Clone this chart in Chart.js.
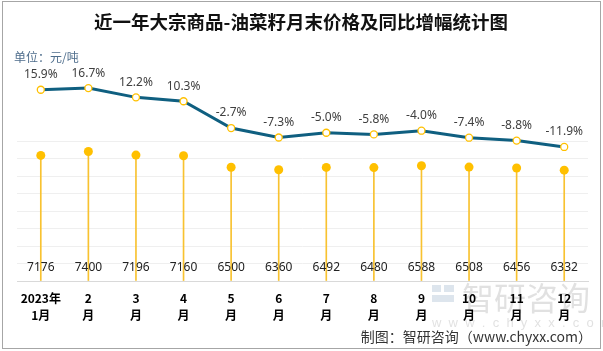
<!DOCTYPE html>
<html>
<head>
<meta charset="utf-8">
<script src="https://cdn.jsdelivr.net/npm/chart.js@4.4.1/dist/chart.umd.min.js"></script>
<style>
  body { margin: 0; background: #fff; }
  #wrap { width: 603px; height: 351px; position: relative; }
</style>
</head>
<body>
<div id="wrap"><canvas id="chartPrice"></canvas></div>
<script>
// 数据
var months = [['2023年', '1月'], ['2', '月'], ['3', '月'], ['4', '月'], ['5', '月'], ['6', '月'],
              ['7', '月'], ['8', '月'], ['9', '月'], ['10', '月'], ['11', '月'], ['12', '月']];
var prices = [7176, 7400, 7196, 7160, 6500, 6360, 6492, 6480, 6588, 6508, 6456, 6332];
var yoy = [15.9, 16.7, 12.2, 10.3, -2.7, -7.3, -5.0, -5.8, -4.0, -7.4, -8.8, -11.9];

var GOLD = '#FFC000';
var LINE = '#0F5F80';
var CJK = '"Noto Sans CJK SC", "Noto Sans", sans-serif';

// 文字、水印、边框
var extras = {
    id: 'extras',
    beforeDraw: function (chart) {
        var ctx = chart.ctx;
        ctx.save();
        // watermark
        ctx.globalAlpha = 0.3;
        ctx.fillStyle = '#8fa9c4';
        ctx.fillRect(432, 285, 9, 7);
        ctx.fillRect(444, 285, 10, 7);
        ctx.fillRect(432, 295, 22, 7);
        ctx.fillStyle = '#9a9a9a';
        ctx.font = '32px ' + CJK;
        ctx.textBaseline = 'middle';
        ctx.textAlign = 'left';
        ctx.fillText('智研咨询', 462, 298);
        ctx.font = '13px "Liberation Sans", sans-serif';
        ctx.fillText('w  w  w  .  c  h  y  x  x  .  c  o  m', 432, 323);
        ctx.restore();
    },
    afterDatasetsDraw: function (chart) {
        var ctx = chart.ctx;
        var area = chart.chartArea;
        ctx.save();
        ctx.textAlign = 'center';
        ctx.textBaseline = 'middle';
        // 价格标签
        ctx.font = '12px "Noto Sans", sans-serif';
        ctx.fillStyle = '#222';
        chart.getDatasetMeta(1).data.forEach(function (pt, i) {
            ctx.fillText(String(prices[i]), pt.x, area.bottom - 13);
        });
        // 同比标签
        ctx.fillStyle = '#404040';
        chart.getDatasetMeta(0).data.forEach(function (pt, i) {
            ctx.fillText(yoy[i].toFixed(1) + '%', pt.x, pt.y - 15);
        });
        ctx.restore();
    },
    afterDraw: function (chart) {
        var ctx = chart.ctx;
        ctx.save();
        ctx.fillStyle = '#111';
        ctx.textBaseline = 'middle';
        ctx.textAlign = 'center';
        ctx.font = 'bold 18.5px ' + CJK;
        ctx.fillText('近一年大宗商品-油菜籽月末价格及同比增幅统计图', 301, 22);
        ctx.textAlign = 'left';
        ctx.font = '12px ' + CJK;
        ctx.fillStyle = '#4e6d8c';
        ctx.fillText('单位：元/吨', 14, 57);
        ctx.textAlign = 'right';
        ctx.font = '14px ' + CJK;
        ctx.fillStyle = '#333';
        ctx.fillText('制图：智研咨询（www.chyxx.com）', 592, 337);
        ctx.strokeStyle = '#a6a6a6';
        ctx.lineWidth = 1;
        ctx.strokeRect(2.5, 1.5, 598, 347);
        ctx.restore();
    }
};

var chartPrice = new Chart(document.getElementById('chartPrice'), {
    data: {
        labels: months,
        datasets: [
            {
                type: 'line',
                data: yoy,
                yAxisID: 'yPct',
                borderColor: LINE,
                borderWidth: 3,
                tension: 0,
                pointRadius: 3.5,
                pointBackgroundColor: '#fff',
                pointBorderColor: GOLD,
                pointBorderWidth: 1.3,
                order: 0
            },
            {
                type: 'line',
                data: prices,
                yAxisID: 'yPrice',
                showLine: false,
                pointRadius: 4.5,
                pointBackgroundColor: GOLD,
                pointBorderWidth: 0,
                order: 1
            },
            {
                type: 'bar',
                data: prices,
                yAxisID: 'yPrice',
                backgroundColor: '#F8C230',
                barThickness: 1,
                order: 2
            }
        ]
    },
    options: {
        responsive: true,
        maintainAspectRatio: false,
        animation: false,
        layout: { padding: { top: 71, left: 17, right: 15, bottom: 0 } },
        plugins: {
            legend: { display: false },
            tooltip: { enabled: false }
        },
        scales: {
            x: {
                grid: { display: false, drawTicks: false },
                border: { color: '#d9d9d9' },
                ticks: {
                    color: '#000',
                    padding: 9,
                    maxRotation: 0,
                    autoSkip: false,
                    font: { family: CJK, size: 12, weight: 'bold', lineHeight: 1.4 }
                },
                afterFit: function (s) { s.height = 70; }
            },
            yPrice: {
                position: 'left',
                min: 0,
                max: 12000,
                ticks: { display: false, stepSize: 1000 },
                border: { display: false },
                grid: {
                    drawTicks: false,
                    color: function (c) {
                        return (c.tick.value > 0 && c.tick.value <= 8000) ? '#efefef' : 'rgba(0,0,0,0)';
                    }
                },
                afterFit: function (s) { s.width = 0; }
            },
            yPct: {
                position: 'right',
                min: -77,
                max: 25,
                display: false
            }
        }
    },
    plugins: [extras]
});
</script>
</body>
</html>
